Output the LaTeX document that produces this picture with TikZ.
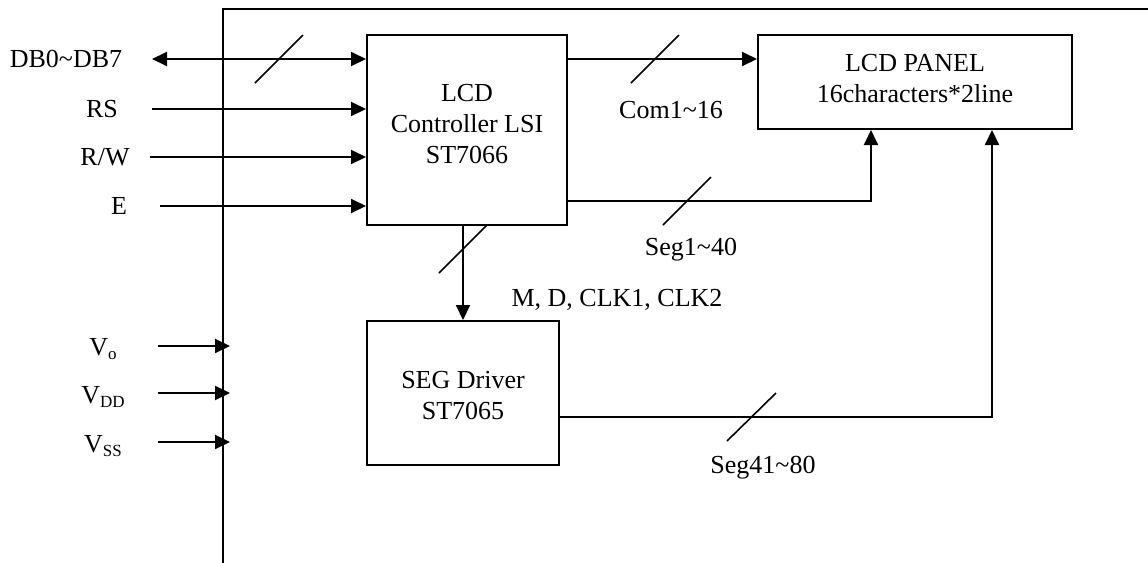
\documentclass[tikz,border=0pt]{standalone}
\usepackage{fontspec}
\setmainfont{Liberation Serif}
\usetikzlibrary{arrows.meta}
\newcommand\subtx[1]{\raisebox{-2pt}{\fontsize{8.5}{9}\selectfont #1}}
\begin{document}
\begin{tikzpicture}[x=0.5pt,y=-0.5pt, line width=1pt,
  every node/.style={font=\fontsize{13}{15.5}\selectfont, inner sep=0pt},
  blk/.style={draw, line width=1pt, align=center, inner sep=0pt},
  arr/.style={-{Triangle[length=7.5pt,width=7pt]}},
  darr/.style={{Triangle[length=7.5pt,width=7pt]}-{Triangle[length=7.5pt,width=7pt]}},
  slash/.style={line width=0.8pt}]
\useasboundingbox (0,0) rectangle (1148,563);
% blocks
\node[blk, minimum width=100pt, minimum height=95pt,
  label={[align=center, yshift=3pt]center:LCD\\Controller LSI\\ST7066}] (ctrl) at (467,130) {};
\node[blk, minimum width=157pt, minimum height=47pt,
  label={[align=center, yshift=1.5pt]center:LCD PANEL\\16characters*2line}] (panel) at (915,82) {};
\node[blk, minimum width=96pt, minimum height=72pt,
  label={[align=center, yshift=-1.5pt]center:SEG Driver\\ST7065}] (seg) at (463,393) {};
% frame
\coordinate (fb) at (223,563);
\coordinate (ftl) at (223,9);
\coordinate (ftr) at (1148,9);
\draw (fb) -- (ftl) -- (ftr);
% inputs
\coordinate (dbs) at (152,59);
\draw[darr] (dbs) -- (dbs -| ctrl.west);
\node (dbl) at (66,59) {DB0\textasciitilde DB7};
\draw[slash] (255,83) -- (303,35);
\coordinate (rss) at (152,109);
\draw[arr] (rss) -- (rss -| ctrl.west);
\node (rsl) at (102,109) {RS};
\coordinate (rws) at (150,157);
\draw[arr] (rws) -- (rws -| ctrl.west);
\node (rwl) at (105,157) {R/W};
\coordinate (es) at (160,206);
\draw[arr] (es) -- (es -| ctrl.west);
\node (el) at (119,206) {E};
% com
\draw[arr] (ctrl.east |- dbs) -- (panel.west |- dbs);
\draw[slash] (631,83) -- (679,35);
\node (coml) at (671,110) {Com1\textasciitilde 16};
% seg1-40
\coordinate (s1) at (0,201);
\coordinate (s1x) at (871,0);
\draw[arr] (ctrl.east |- s1) -| (s1x |- panel.south);
\draw[slash] (663,225) -- (711,177);
\node (s1l) at (691,250) {Seg1\textasciitilde 40};
% M,D
\draw[arr] (seg.north |- ctrl.south) -- (seg.north);
\draw[slash] (439,273) -- (487,225);
\node (mdl) at (617,300) {M, D, CLK1, CLK2};
% seg41-80
\coordinate (s2) at (0,417);
\coordinate (s2x) at (992,0);
\draw[arr] (seg.east |- s2) -| (s2x |- panel.south);
\draw[slash] (727,441) -- (776,393);
\node (s2l) at (763,468) {Seg41\textasciitilde 80};
% power
\coordinate (vo) at (158,346);
\coordinate (voe) at (230,346);
\draw[arr] (vo) -- (voe);
\node[anchor=base] (vol) at (103,355) {V\subtx{o}};
\coordinate (vdd) at (158,393);
\coordinate (vdde) at (230,393);
\draw[arr] (vdd) -- (vdde);
\node[anchor=base] (vddl) at (103,403) {V\subtx{DD}};
\coordinate (vss) at (158,442);
\coordinate (vsse) at (230,442);
\draw[arr] (vss) -- (vsse);
\node[anchor=base] (vssl) at (103,452) {V\subtx{SS}};
\end{tikzpicture}
\end{document}
